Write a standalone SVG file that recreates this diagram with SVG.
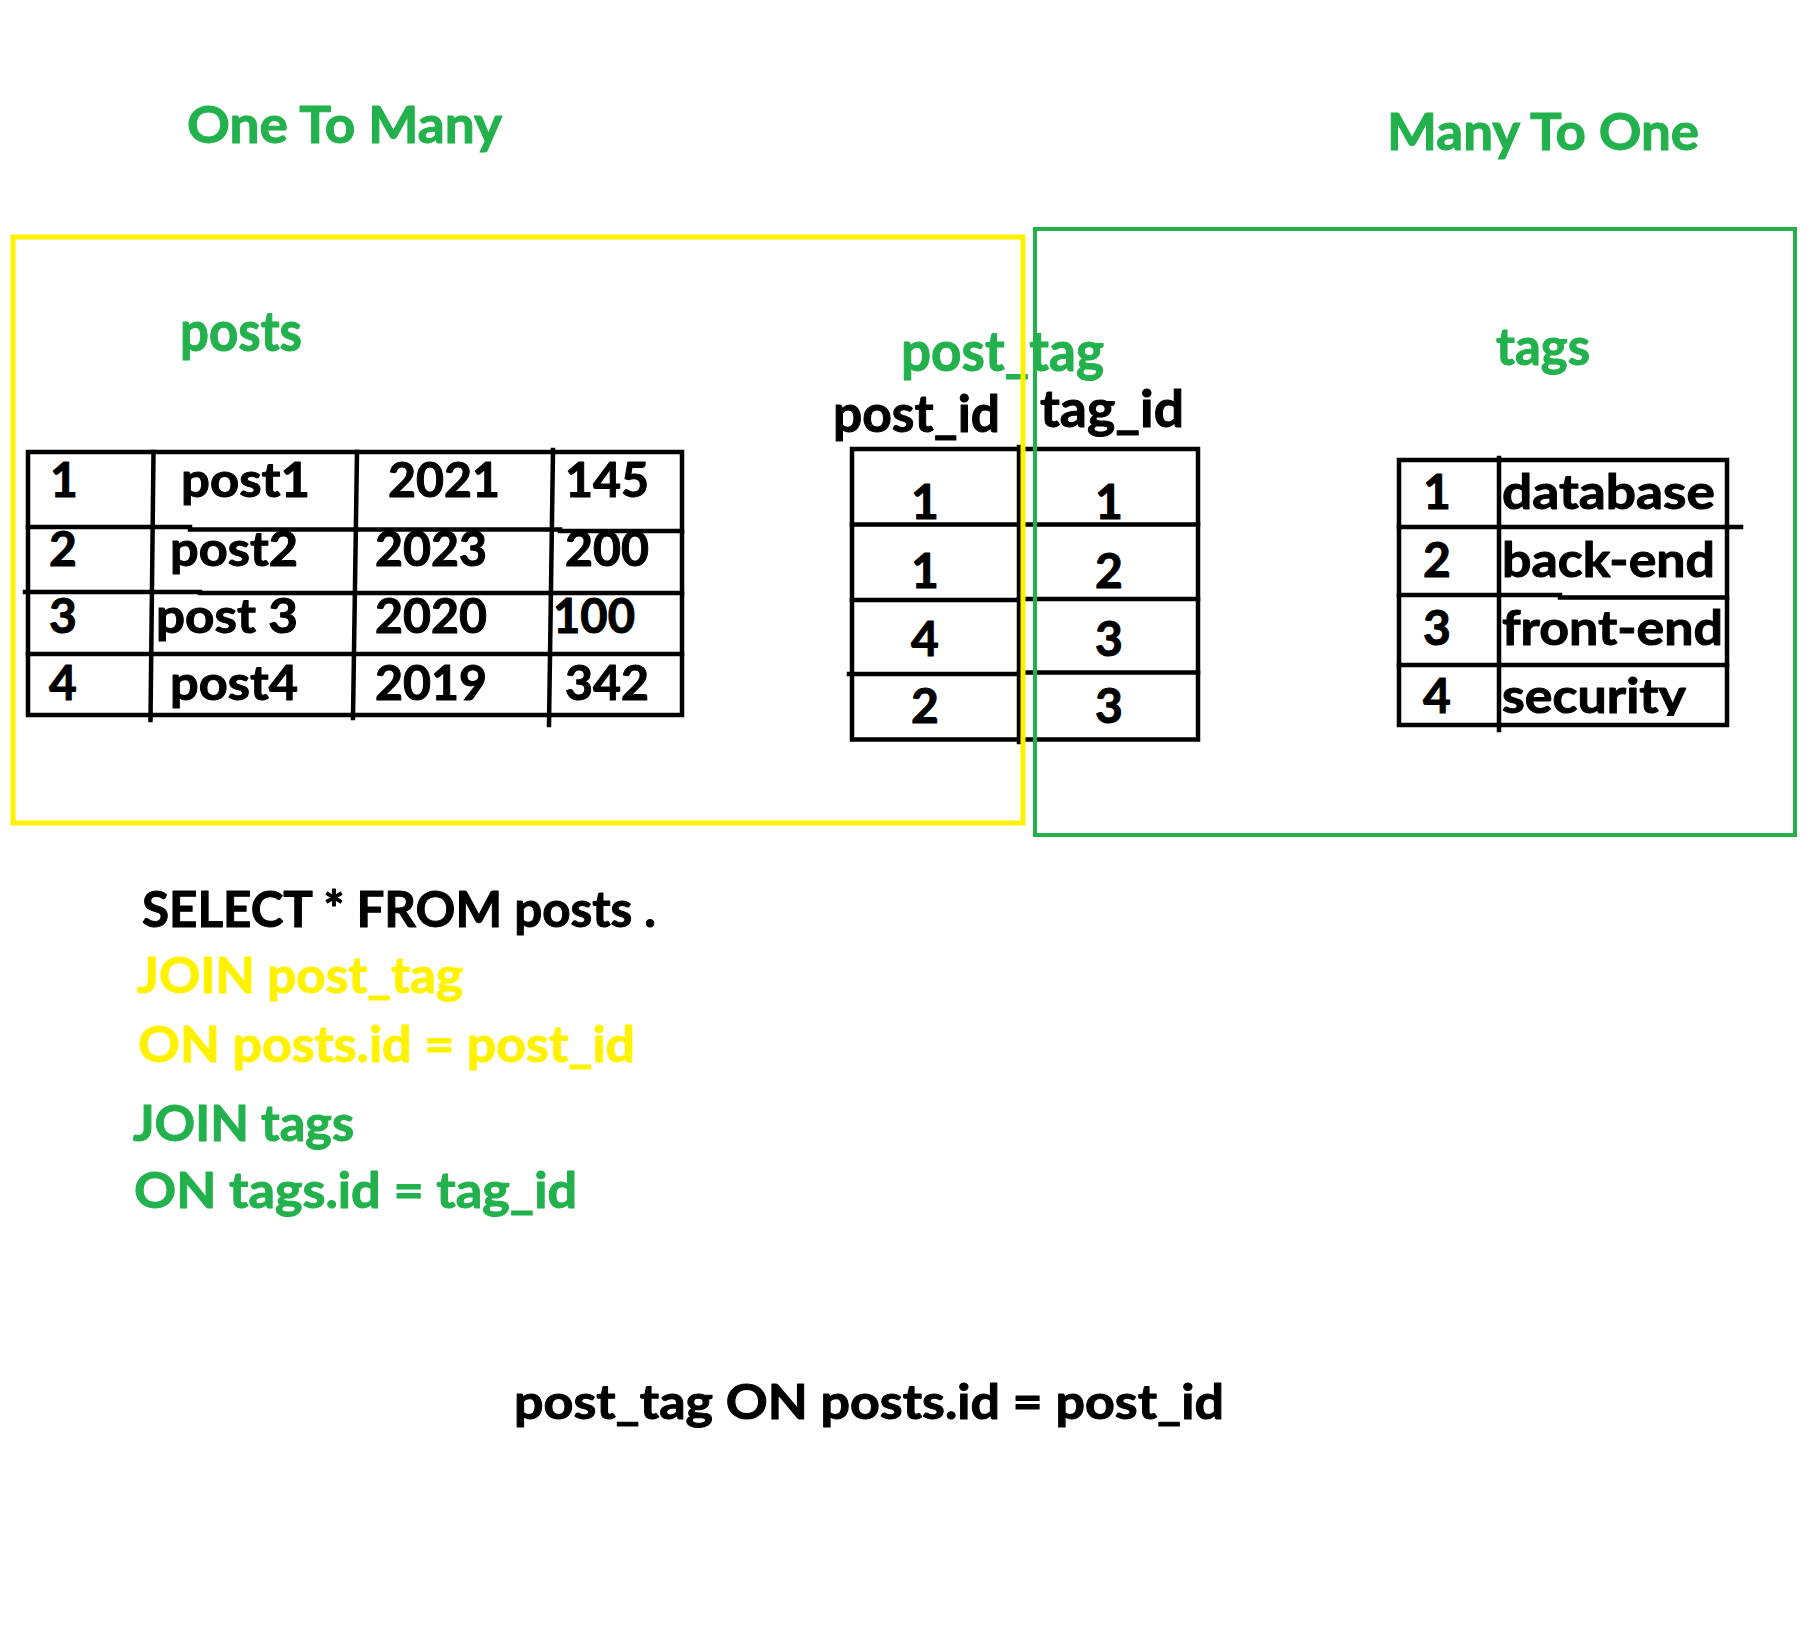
<svg xmlns="http://www.w3.org/2000/svg" width="1816" height="1628" viewBox="0 0 1816 1628">
<style>
text{font-family:"Lato","Carlito","Liberation Sans",sans-serif;font-weight:bold;stroke-width:1;stroke-linejoin:round}
.g{fill:#22B14C;stroke:#22B14C}
.y{fill:#FFF200;stroke:#FFF200}
.k{fill:#000;stroke:#000}
.h{font-size:52px}
.t{font-size:48px}
.q{font-size:50px}
.m{text-anchor:middle}
.ln{stroke:#000;stroke-width:4.5;fill:none;stroke-linecap:square}
</style>
<defs>
<clipPath id="secClip"><rect x="1500" y="600" width="240" height="116"/></clipPath>
</defs>
<rect width="1816" height="1628" fill="#fff"/>

<g id="title-one-to-many"><text class="g h" x="187" y="143" textLength="315" lengthAdjust="spacingAndGlyphs">One To Many</text></g>
<g id="title-many-to-one"><text class="g h" x="1387" y="150" textLength="312" lengthAdjust="spacingAndGlyphs">Many To One</text></g>

<g id="posts-table">
<text class="g" style="font-size:55px" x="180" y="351" textLength="122" lengthAdjust="spacingAndGlyphs">posts</text>
<g class="k t">
<text class="m" x="64" y="497">1</text>
<text x="181" y="497" textLength="129" lengthAdjust="spacingAndGlyphs">post1</text>
<text x="388" y="497" textLength="112" lengthAdjust="spacingAndGlyphs">2021</text>
<text x="565" y="497" textLength="84" lengthAdjust="spacingAndGlyphs">145</text>
<text class="m" x="63" y="566">2</text>
<text x="170" y="566" textLength="128" lengthAdjust="spacingAndGlyphs">post2</text>
<text x="375" y="566" textLength="112" lengthAdjust="spacingAndGlyphs">2023</text>
<text x="565" y="566" textLength="84" lengthAdjust="spacingAndGlyphs">200</text>
<text class="m" x="63" y="633">3</text>
<text x="156" y="633" textLength="142" lengthAdjust="spacingAndGlyphs">post 3</text>
<text x="375" y="633" textLength="112" lengthAdjust="spacingAndGlyphs">2020</text>
<text x="553" y="633" textLength="82" lengthAdjust="spacingAndGlyphs">100</text>
<text class="m" x="63" y="700">4</text>
<text x="170" y="700" textLength="128" lengthAdjust="spacingAndGlyphs">post4</text>
<text x="375" y="700" textLength="112" lengthAdjust="spacingAndGlyphs">2019</text>
<text x="565" y="700" textLength="84" lengthAdjust="spacingAndGlyphs">342</text>
</g>
<rect class="ln" x="28" y="452" width="654" height="263"/>
<path class="ln" d="M28,527 H190 M190,529.5 H560 M560,531 H682"/>
<path class="ln" d="M25,592 H200 M200,593 H682"/>
<path class="ln" d="M28,654 H682"/>
<path class="ln" d="M153.5,452 L150.5,720"/>
<path class="ln" d="M357,452 L353,718"/>
<path class="ln" d="M553,450 L549,725"/>
</g>

<g id="post_tag-table">
<text class="g" style="font-size:55px" x="901" y="371" textLength="203" lengthAdjust="spacingAndGlyphs">post_tag</text>
<text class="k h" x="833" y="432" textLength="167" lengthAdjust="spacingAndGlyphs">post_id</text>
<text class="k h" x="1040" y="427" textLength="144" lengthAdjust="spacingAndGlyphs">tag_id</text>
<g class="k t m">
<text x="925" y="519">1</text><text x="1109" y="519">1</text>
<text x="925" y="588">1</text><text x="1109" y="588">2</text>
<text x="925" y="656">4</text><text x="1109" y="656">3</text>
<text x="925" y="723">2</text><text x="1109" y="723">3</text>
</g>
<rect class="ln" x="852" y="449" width="346" height="290.5"/>
<path class="ln" d="M1019,447 V742"/>
<path class="ln" d="M852,524.5 H1198"/>
<path class="ln" d="M852,600 H1019 M1019,599 H1198"/>
<path class="ln" d="M849,674 H1019 M1019,672.5 H1198"/>
</g>

<g id="tags-table">
<text class="g h" x="1496" y="365" textLength="94" lengthAdjust="spacingAndGlyphs">tags</text>
<g class="k t">
<text class="m" x="1437" y="509">1</text>
<text x="1502" y="509" textLength="213" lengthAdjust="spacingAndGlyphs">database</text>
<text class="m" x="1437" y="577">2</text>
<text x="1502" y="577" textLength="213" lengthAdjust="spacingAndGlyphs">back-end</text>
<text class="m" x="1437" y="645">3</text>
<text x="1502" y="645" textLength="221" lengthAdjust="spacingAndGlyphs">front-end</text>
<text class="m" x="1437" y="713">4</text>
<text x="1502" y="713" textLength="184" lengthAdjust="spacingAndGlyphs" clip-path="url(#secClip)">security</text>
</g>
<rect class="ln" x="1399" y="460" width="328" height="265"/>
<path class="ln" d="M1499,458 V730"/>
<path class="ln" d="M1399,527 H1741"/>
<path class="ln" d="M1399,595 H1560 M1560,597.5 H1727"/>
<path class="ln" d="M1399,665 H1727"/>
</g>

<g id="sql-query">
<text class="k q" x="142" y="927" textLength="514" lengthAdjust="spacingAndGlyphs">SELECT * FROM posts .</text>
<text class="y q" x="137" y="993" textLength="326" lengthAdjust="spacingAndGlyphs">JOIN post_tag</text>
<text class="y q" x="138" y="1062" textLength="497" lengthAdjust="spacingAndGlyphs">ON posts.id = post_id</text>
<text class="g q" x="133" y="1141" textLength="221" lengthAdjust="spacingAndGlyphs">JOIN tags</text>
<text class="g q" x="134" y="1208" textLength="443" lengthAdjust="spacingAndGlyphs">ON tags.id = tag_id</text>
</g>

<g id="join-note">
<text class="k t" x="514" y="1419" textLength="710" lengthAdjust="spacingAndGlyphs">post_tag ON posts.id = post_id</text>
</g>

<g id="one-to-many-box"><rect x="13" y="237" width="1010" height="586" fill="none" stroke="#FFF200" stroke-width="5"/></g>
<g id="many-to-one-box"><rect x="1035" y="229" width="760" height="606" fill="none" stroke="#22B14C" stroke-width="4"/></g>

<g id="connectors"></g>
</svg>
